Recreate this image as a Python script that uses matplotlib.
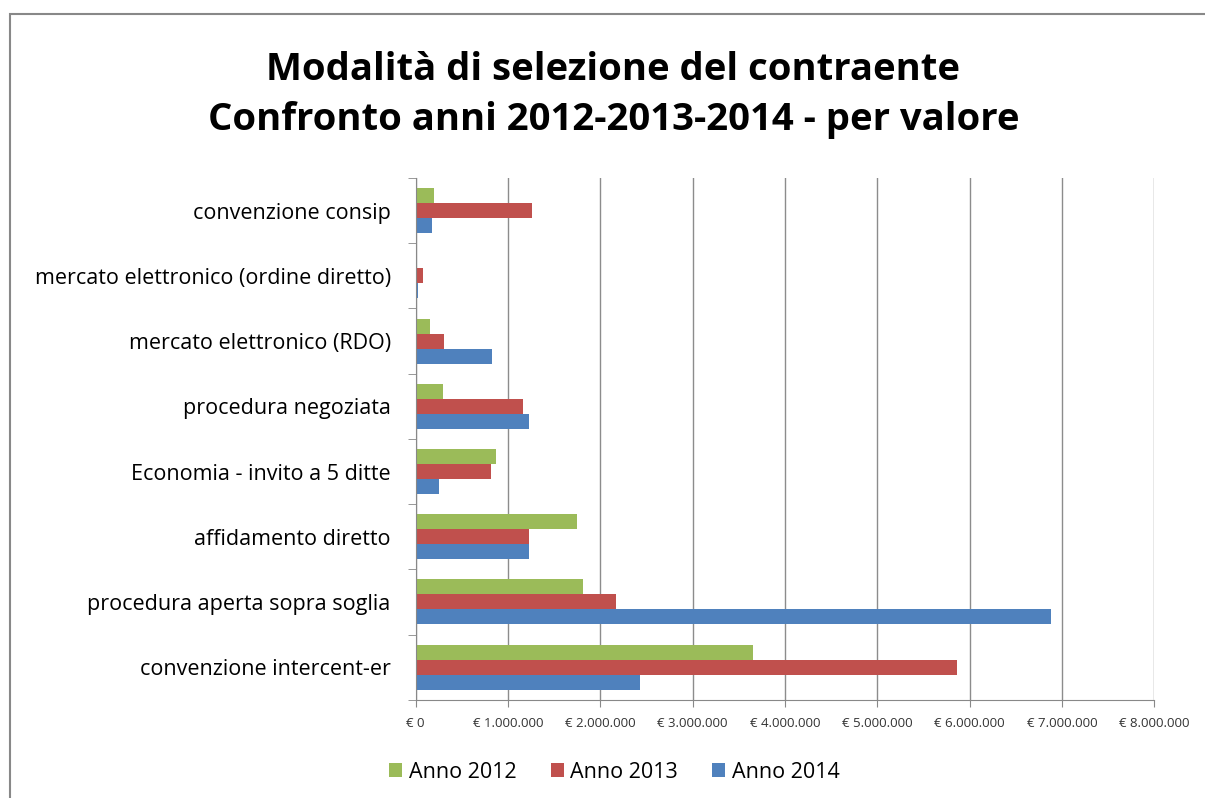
import numpy as np
import matplotlib
matplotlib.use("Agg")
import matplotlib.pyplot as plt
from matplotlib.patches import Rectangle
from matplotlib.ticker import FuncFormatter, FixedLocator

categories = [
    "convenzione consip",
    "mercato elettronico (ordine diretto)",
    "mercato elettronico (RDO)",
    "procedura negoziata",
    "Economia - invito a 5 ditte",
    "affidamento diretto",
    "procedura aperta sopra soglia",
    "convenzione intercent-er",
]
anno_2012 = [200000, 0, 150000, 300000, 870000, 1750000, 1810000, 3650000]
anno_2013 = [1260000, 80000, 310000, 1160000, 810000, 1230000, 2170000, 5860000]
anno_2014 = [180000, 20000, 830000, 1230000, 250000, 1230000, 6880000, 2430000]
series = [("Anno 2012", anno_2012, "#9BBB59"),
          ("Anno 2013", anno_2013, "#C0504D"),
          ("Anno 2014", anno_2014, "#4F81BD")]
x_ticks = list(range(0, 8000001, 1000000))

plt.rcParams["font.family"] = ["Open Sans", "DejaVu Sans"]

fig = plt.figure(figsize=(12.05, 7.98), dpi=100)
fig.patches.append(Rectangle((10 / 1205, -0.01), 1.0, 1 - 14 / 798 + 0.01,
                             transform=fig.transFigure, fill=False,
                             edgecolor="#888888", linewidth=1.5))
ax = fig.add_axes([0.345, 0.123, 0.613, 0.654])

n = len(categories)
y = np.arange(n)
h = 0.23
for i, (name, vals, color) in enumerate(series):
    ax.barh(y + (i - 1) * h, vals, height=h, color=color, label=name)

ax.set_ylim(n - 0.5, -0.5)
ax.set_xlim(0, 8000000)
ax.set_yticks(y)
ax.set_yticklabels(categories, fontsize=15.5)
ax.yaxis.set_minor_locator(FixedLocator(np.arange(-0.5, n, 1.0)))
ax.tick_params(axis="y", which="major", length=0, pad=18)
ax.tick_params(axis="y", which="minor", length=6, color="#888888")

ax.set_xticks(x_ticks)
ax.xaxis.set_major_formatter(FuncFormatter(
    lambda v, p: "€ " + f"{int(v):,}".replace(",", ".")))
ax.tick_params(axis="x", length=5, color="#888888", labelsize=9.5, pad=7,
               labelcolor="#333333")

ax.grid(axis="x", color="#8c8c8c", linewidth=1)
ax.set_axisbelow(True)
for s in ("top", "right"):
    ax.spines[s].set_visible(False)
for s in ("left", "bottom"):
    ax.spines[s].set_color("#888888")

fig.text(0.509, 0.881, "Modalità di selezione del contraente\nConfronto anni 2012-2013-2014 - per valore",
         ha="center", va="center", fontsize=27.5, fontweight="bold",
         linespacing=1.4)

fig.legend(loc="lower center", bbox_to_anchor=(0.51, -0.005), ncol=3, frameon=False,
           fontsize=15.5, handlelength=0.6, handleheight=0.6, handletextpad=0.3,
           columnspacing=1.6)

fig.savefig("out.png", dpi=100)
